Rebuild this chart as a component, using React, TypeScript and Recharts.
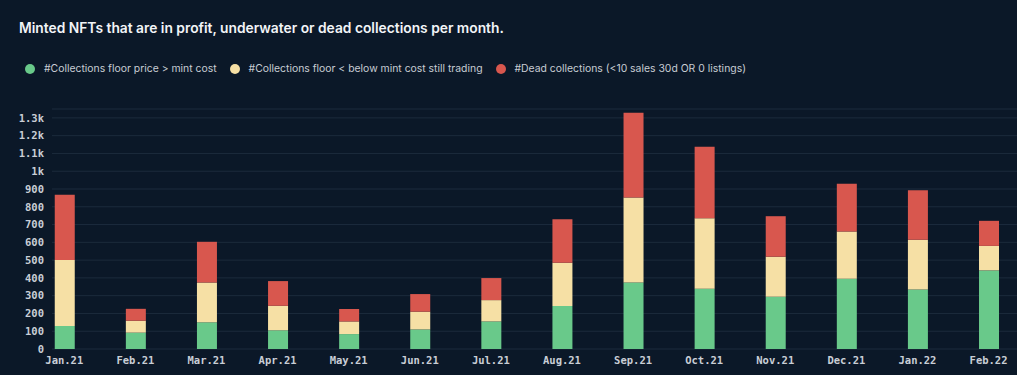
import { Bar, BarChart, CartesianGrid, Legend, XAxis, YAxis } from "recharts"

const months = [
  "Jan.21", "Feb.21", "Mar.21", "Apr.21", "May.21", "Jun.21", "Jul.21",
  "Aug.21", "Sep.21", "Oct.21", "Nov.21", "Dec.21", "Jan.22", "Feb.22",
]
const inProfit = [130, 92, 150, 105, 84, 110, 155, 242, 374, 339, 294, 395, 335, 442]
const underwater = [370, 67, 224, 138, 71, 100, 120, 243, 478, 397, 225, 266, 279, 138]
const dead = [367, 67, 229, 139, 70, 99, 124, 245, 477, 401, 228, 269, 279, 141]
const yTicks = [0, 100, 200, 300, 400, 500, 600, 700, 800, 900, 1000, 1100, 1200, 1300]
const seriesOrder = ["inProfit", "underwater", "dead"]

const data = months.map((month, i) => ({
  idx: i,
  month,
  inProfit: inProfit[i],
  underwater: underwater[i],
  dead: dead[i],
}))

const BG = "#0b1828"
const GREEN = "#69c98a"
const YELLOW = "#f6e0a5"
const RED = "#d8574e"
const TICK = { fill: "#c9ced6", fontSize: 10.5, fontFamily: "DejaVu Sans Mono", fontWeight: 700 }

function formatY(value: number) {
  if (value >= 1000) return `${value / 1000}k`
  return String(value)
}

function LegendContent({ payload }: any) {
  const items = [...(payload ?? [])].sort(
    (a: any, b: any) => seriesOrder.indexOf(a.dataKey) - seriesOrder.indexOf(b.dataKey),
  )
  return (
    <div style={{ display: "flex", alignItems: "center", fontFamily: "Inter", fontSize: 10.4, color: "#c7ccd3" }}>
      {items.map((item: any) => (
        <div key={item.value} style={{ display: "flex", alignItems: "center", marginRight: 13 }}>
          <span
            style={{
              display: "inline-block",
              width: 10,
              height: 10,
              borderRadius: 5,
              background: item.color,
              marginRight: 9,
            }}
          />
          <span>{item.value}</span>
        </div>
      ))}
    </div>
  )
}

export default function App() {
  return (
    <div style={{ position: "fixed", left: 0, top: 0, width: 1017, height: 375, background: BG, overflow: "hidden" }}>
      <div
        style={{
          position: "absolute",
          left: 19,
          top: 20,
          fontFamily: "Inter",
          fontWeight: 600,
          fontSize: 13.8,
          color: "#f2f4f7",
          whiteSpace: "nowrap",
        }}
      >
        Minted NFTs that are in profit, underwater or dead collections per month.
      </div>
      <BarChart
        width={1017}
        height={375}
        data={data}
        margin={{ top: 96, right: 0, left: 0, bottom: 6 }}
        barSize={20}
      >
        <CartesianGrid stroke="#1c2b3c" strokeWidth={1} vertical={false} />
        <XAxis
          dataKey="idx"
          type="number"
          domain={[-0.173, 13.4]}
          ticks={months.map((_, i) => i)}
          tickFormatter={(i: number) => months[i] ?? ""}
          interval={0}
          tickLine={false}
          axisLine={false}
          height={20}
          tick={TICK}
        />
        <YAxis
          domain={[0, 1350]}
          ticks={yTicks}
          tickFormatter={formatY}
          interval={0}
          tickLine={false}
          axisLine={false}
          width={52}
          tick={TICK}
        />
        <Legend
          verticalAlign="top"
          align="left"
          content={<LegendContent />}
          wrapperStyle={{ top: 62, left: 25, width: 900 }}
        />
        <Bar dataKey="inProfit" name="#Collections floor price > mint cost" stackId="a" fill={GREEN} isAnimationActive={false} />
        <Bar dataKey="underwater" name="#Collections floor < below mint cost still trading" stackId="a" fill={YELLOW} isAnimationActive={false} />
        <Bar dataKey="dead" name="#Dead collections (<10 sales 30d OR 0 listings)" stackId="a" fill={RED} isAnimationActive={false} />
      </BarChart>
    </div>
  )
}
